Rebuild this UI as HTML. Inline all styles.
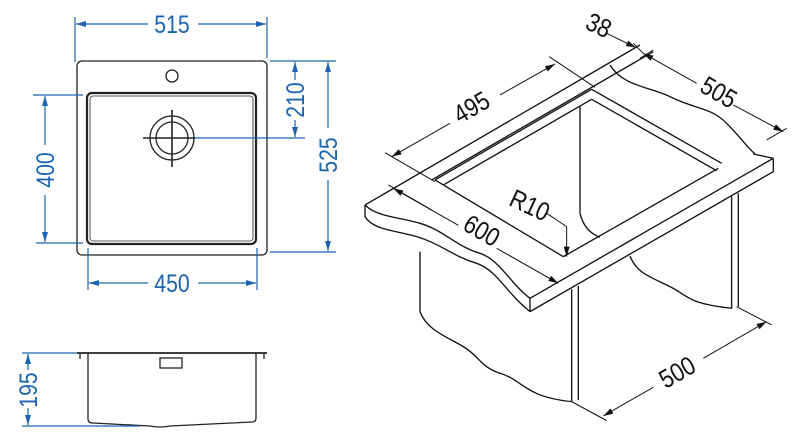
<!DOCTYPE html>
<html><head><meta charset="utf-8"><style>
html,body{margin:0;padding:0;background:#fff;}
svg{display:block;}
text{font-family:"Liberation Sans",sans-serif;}
</style></head><body>
<svg width="800" height="445" viewBox="0 0 800 445" xmlns="http://www.w3.org/2000/svg">
<defs>
<marker id="ab" viewBox="0 0 10 6" refX="10" refY="3" markerWidth="10" markerHeight="6" markerUnits="userSpaceOnUse" orient="auto-start-reverse"><path d="M0,0 L10,3 L0,6 z" fill="#1a64b0"/></marker>
<marker id="ak" viewBox="0 0 10 6" refX="10" refY="3" markerWidth="30" markerHeight="18" markerUnits="userSpaceOnUse" orient="auto-start-reverse"><path d="M0,0 L10,3 L0,6 z" fill="#111"/></marker>
</defs>

<!-- TOP VIEW -->
<g fill="none" stroke="#222" stroke-width="1.3">
<rect x="77" y="61" width="190" height="194" rx="5"/>
<rect x="87" y="93" width="169" height="151" rx="5" stroke-width="2.2"/>
<rect x="90" y="96" width="163" height="145" rx="3" stroke-width="0.8"/>
<circle cx="172" cy="76" r="6"/>
<circle cx="172" cy="138" r="22"/>
<circle cx="172" cy="138" r="16"/>
<line x1="143" y1="138" x2="195" y2="138" stroke-width="1.6"/>
<line x1="172" y1="110" x2="172" y2="167" stroke-width="1.6"/>
</g>
<g fill="none" stroke="#1a64b0" stroke-width="1.2">
<line x1="195" y1="138" x2="305" y2="138"/>
<line x1="75" y1="17" x2="75" y2="62"/><line x1="267" y1="17" x2="267" y2="58"/>
<line x1="76" y1="24" x2="148" y2="24" marker-start="url(#ab)"/><line x1="198" y1="24" x2="266" y2="24" marker-end="url(#ab)"/>
<line x1="270" y1="61" x2="336" y2="61"/><line x1="270" y1="252" x2="336" y2="252"/>
<line x1="295" y1="62" x2="295" y2="80" marker-start="url(#ab)"/><line x1="295" y1="120" x2="295" y2="137" marker-end="url(#ab)"/>
<line x1="328" y1="62" x2="328" y2="128" marker-start="url(#ab)"/><line x1="328" y1="180" x2="328" y2="251" marker-end="url(#ab)"/>
<line x1="33" y1="95" x2="83" y2="95"/><line x1="36" y1="243" x2="83" y2="243"/>
<line x1="45" y1="96" x2="45" y2="145" marker-start="url(#ab)"/><line x1="45" y1="195" x2="45" y2="242" marker-end="url(#ab)"/>
<line x1="88" y1="248" x2="88" y2="290"/><line x1="257" y1="248" x2="257" y2="290"/>
<line x1="89" y1="283" x2="148" y2="283" marker-start="url(#ab)"/><line x1="198" y1="283" x2="256" y2="283" marker-end="url(#ab)"/>
</g>
<g fill="#1a64b0" font-size="25" text-anchor="middle">
<text transform="translate(172,33) scale(0.85,1)">515</text>
<text transform="translate(172,292) scale(0.85,1)">450</text>
<text transform="translate(54,170) rotate(-90) scale(0.85,1)">400</text>
<text transform="translate(304,100) rotate(-90) scale(0.85,1)">210</text>
<text transform="translate(337,155) rotate(-90) scale(0.85,1)">525</text>
</g>

<!-- SIDE VIEW -->
<g fill="none" stroke="#222" stroke-width="1.3">
<line x1="77" y1="353" x2="267" y2="353" stroke-width="1.8"/>
<line x1="80" y1="353" x2="80" y2="359"/><line x1="264" y1="353" x2="264" y2="359"/>
<path d="M88,353 L88,419 Q88,423 93,423 L150,426 Q160,428 170,426 L252,422 Q256,422 256,418 L256,353"/>
<rect x="160" y="358" width="22" height="10"/>
</g>
<g fill="none" stroke="#1a64b0" stroke-width="1.2">
<line x1="22" y1="353" x2="77" y2="353"/><line x1="22" y1="426" x2="140" y2="426"/>
<line x1="28" y1="354" x2="28" y2="370" marker-start="url(#ab)"/><line x1="28" y1="408" x2="28" y2="425" marker-end="url(#ab)"/>
</g>
<text fill="#1a64b0" font-size="25" text-anchor="middle" transform="translate(37,390) rotate(-90) scale(0.85,1)">195</text>

<!-- ISOMETRIC VIEW (zoom coords) -->
<g transform="translate(350,0) scale(0.3333)">
<g fill="none" stroke="#111" stroke-width="4">
<line x1="45" y1="615" x2="870" y2="135"/>
<line x1="245" y1="540" x2="910" y2="155"/>
<path d="M780,195 C820,260 900,260 960,290 C1040,330 1080,320 1130,370 C1170,410 1190,440 1215,462"/>
<path d="M45,615 L45,650 C70,690 130,690 200,710 C270,730 310,770 380,790 C440,810 470,880 540,935"/>
<path d="M45,615 C80,650 140,650 210,670 C280,690 320,740 390,760 C450,780 480,850 540,895"/>
<line x1="540" y1="895" x2="1270" y2="475"/>
<line x1="540" y1="935" x2="1270" y2="515"/>
<line x1="1270" y1="475" x2="1270" y2="515"/>
<line x1="540" y1="895" x2="540" y2="935"/>
<line x1="1210" y1="462" x2="1270" y2="475"/>
<line x1="255" y1="540" x2="640" y2="770"/>
<line x1="640" y1="770" x2="1105" y2="505"/>
<line x1="255" y1="540" x2="725" y2="268"/>
<line x1="725" y1="268" x2="1115" y2="490"/>
<line x1="280" y1="555" x2="725" y2="298"/>
<line x1="725" y1="298" x2="1100" y2="512"/>
<line x1="690" y1="318" x2="690" y2="640"/>
<path d="M690,640 C700,680 720,700 750,712"/>
<line x1="210" y1="755" x2="210" y2="935"/>
<path d="M210,935 C230,990 290,1010 340,1040 C390,1070 390,1100 450,1120 C520,1140 520,1190 665,1205"/>
<line x1="665" y1="868" x2="665" y2="1205"/>
<line x1="685" y1="858" x2="685" y2="1200"/>
<line x1="1145" y1="590" x2="1145" y2="925"/>
<line x1="1165" y1="580" x2="1165" y2="920"/>
<path d="M840,768 C860,820 900,830 960,860 C1020,890 1010,910 1145,925"/>
</g>
<g fill="none" stroke="#111" stroke-width="3">
<line x1="105" y1="458" x2="255" y2="545"/>
<line x1="598" y1="170" x2="735" y2="262"/>
<line x1="125" y1="470" x2="300" y2="370" marker-start="url(#ak)"/>
<line x1="450" y1="285" x2="615" y2="192" marker-end="url(#ak)"/>
<line x1="115" y1="555" x2="245" y2="630"/>
<line x1="130" y1="565" x2="325" y2="676" marker-start="url(#ak)"/>
<line x1="440" y1="745" x2="625" y2="850" marker-end="url(#ak)"/>
<line x1="770" y1="100" x2="858" y2="143" marker-end="url(#ak)"/>
<line x1="880" y1="160" x2="1040" y2="250" marker-start="url(#ak)"/>
<line x1="1150" y1="315" x2="1300" y2="395" marker-end="url(#ak)"/>
<line x1="850" y1="130" x2="880" y2="160"/>
<line x1="910" y1="150" x2="870" y2="175"/>
<line x1="1310" y1="385" x2="1250" y2="420"/>
<line x1="590" y1="640" x2="650" y2="680"/>
<line x1="650" y1="680" x2="650" y2="770" marker-end="url(#ak)"/>
<line x1="665" y1="1205" x2="770" y2="1262"/>
<line x1="1160" y1="920" x2="1265" y2="975"/>
<line x1="760" y1="1248" x2="910" y2="1162" marker-start="url(#ak)"/>
<line x1="1060" y1="1075" x2="1250" y2="965" marker-end="url(#ak)"/>
</g>
<g fill="#111" font-size="78" text-anchor="middle">
<text transform="translate(378,345) rotate(-30) scale(0.85,1)">495</text>
<text transform="translate(382,715) rotate(30) scale(0.85,1)">600</text>
<text transform="translate(1093,300) rotate(30) scale(0.85,1)">505</text>
<text transform="translate(735,100) rotate(25) scale(0.85,1)">38</text>
<text transform="translate(528,640) rotate(25) scale(0.85,1)">R10</text>
<text transform="translate(995,1140) rotate(-30) scale(0.85,1)">500</text>
</g>
</g>
</svg>
</body></html>
